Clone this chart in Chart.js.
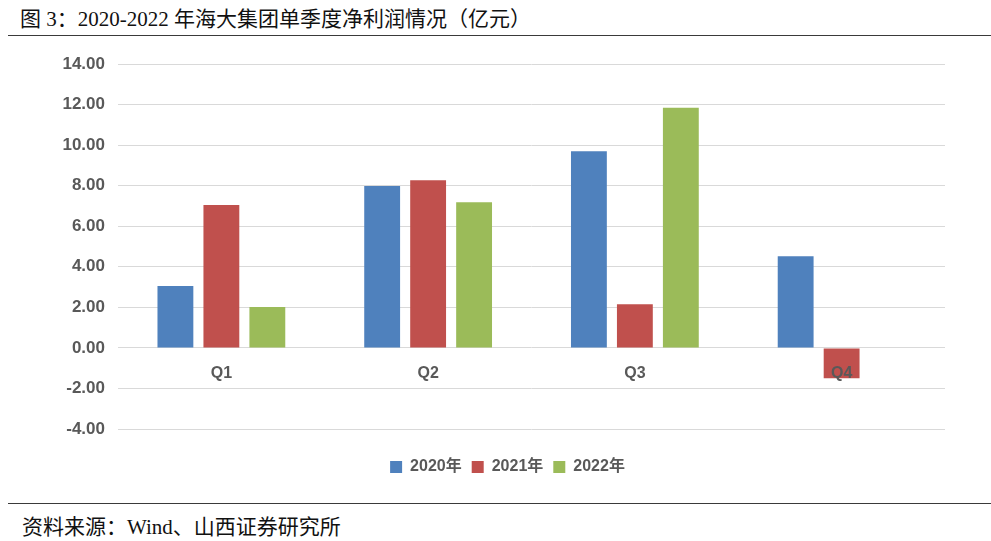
<!DOCTYPE html>
<html>
<head>
<meta charset="utf-8">
<script src="https://cdn.jsdelivr.net/npm/chart.js@4"></script>
<style>
  body { margin: 0; width: 991px; height: 541px; background: #fff; position: relative; overflow: hidden; }
  .caption { position: absolute; left: 20px; font-family: "Liberation Serif", "Noto Sans CJK SC", serif; font-size: 21px; color: #111; white-space: nowrap; }
  #title { top: 2px; }
  #source { top: 510px; left: 22px; }
  .rule { position: absolute; left: 8px; right: 0; height: 1px; background: #3a3a3a; }
  #chartBox { position: absolute; left: 0; top: 40px; width: 991px; height: 445px; }
</style>
</head>
<body>
<div class="caption" id="title">图 3：2020-2022 年海大集团单季度净利润情况（亿元）</div>
<div class="rule" style="top:35px"></div>
<div id="chartBox"><canvas id="chart"></canvas></div>
<div class="rule" style="top:503px"></div>
<div class="caption" id="source">资料来源：Wind、山西证券研究所</div>

<script>
// DATA
const quarters = ["Q1", "Q2", "Q3", "Q4"];
const years = ["2020年", "2021年", "2022年"];
const profit2020 = [3.05, 7.98, 9.70, 4.52];
const profit2021 = [7.05, 8.27, 2.15, -1.50];
const profit2022 = [2.02, 7.18, 11.84, null];
const barColors = ["#4F81BD", "#C0504D", "#9BBB59"];

const labelGray = "#595959";
const gridGray = "#d9d9d9";

Chart.defaults.font.family = "'Liberation Sans', Arial, 'Noto Sans CJK SC', sans-serif";
Chart.defaults.color = labelGray;

const seriesValues = [profit2020, profit2021, profit2022];

// legend sits a bit right of the canvas centre in the original
const legendShift = {
    id: "legendShift",
    afterLayout(chart) {
        chart.legend.left += 35;
        chart.legend.right += 35;
    }
};

new Chart(document.getElementById("chart"), {
    type: "bar",
    data: {
        labels: quarters,
        datasets: years.map((y, i) => ({
            label: y,
            data: seriesValues[i],
            backgroundColor: barColors[i],
            borderWidth: 0,
            categoryPercentage: 0.667,
            barPercentage: 0.78
        }))
    },
    options: {
        responsive: true,
        maintainAspectRatio: false,
        animation: false,
        layout: { padding: { left: 0, right: 46, top: 24, bottom: 0 } },
        scales: {
            x: {
                position: { y: 0 },
                grid: { display: false },
                border: { display: false },
                ticks: { z: 1, padding: 8, font: { size: 16, weight: "bold" }, color: labelGray }
            },
            y: {
                min: -4,
                max: 14,
                ticks: {
                    stepSize: 2,
                    padding: 13,
                    font: { size: 17, weight: "bold" },
                    color: labelGray,
                    callback: v => v.toFixed(2)
                },
                grid: { color: gridGray, lineWidth: 1, drawTicks: false },
                border: { display: false },
                afterFit: s => { s.width = 118; }
            }
        },
        plugins: {
            legend: {
                position: "bottom",
                title: { display: true, text: "", font: { size: 10 }, padding: { top: 8, bottom: 0 } },
                labels: {
                    boxWidth: 12,
                    boxHeight: 12,
                    padding: 10,
                    color: labelGray,
                    font: { size: 16, weight: "bold" }
                }
            },
            tooltip: { enabled: false }
        }
    },
    plugins: [legendShift]
});
</script>
</body>
</html>
